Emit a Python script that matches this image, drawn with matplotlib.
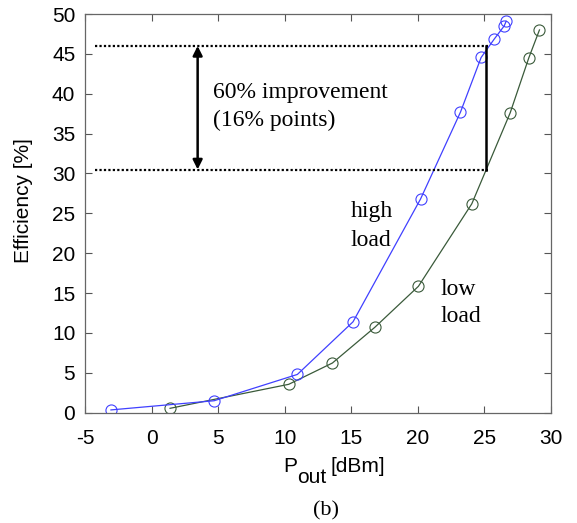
import numpy as np
import matplotlib
matplotlib.use('Agg')
import matplotlib.pyplot as plt

# high load (blue) and low load (dark green) efficiency curves
high_pout = [-3.05, 4.7, 10.95, 15.13, 20.2, 23.2, 24.75, 25.73, 26.48, 26.63]
high_eff = [0.35, 1.5, 4.8, 11.4, 26.8, 37.7, 44.55, 46.85, 48.5, 49.1]
low_pout = [1.39, 10.3, 13.58, 16.76, 20.04, 24.05, 26.93, 28.33, 29.13]
low_eff = [0.55, 3.56, 6.23, 10.7, 15.85, 26.2, 37.6, 44.5, 48.0]

eff_low_ref = 30.5
eff_high_ref = 46.0
x_ticks = [-5, 0, 5, 10, 15, 20, 25, 30]
y_ticks = [0, 5, 10, 15, 20, 25, 30, 35, 40, 45, 50]

serif = ['Liberation Serif', 'DejaVu Serif']
sans = ['Liberation Sans', 'DejaVu Sans']

W, H = 577, 523
fig = plt.figure(figsize=(W / 100, H / 100), dpi=100)
ax = fig.add_axes([0.1473, 0.2109, 0.8077, 0.7623])

ax.plot(low_pout, low_eff, color='#3a5a3a', lw=0.9, marker='o', ms=8,
        mfc='none', mec='#3a5a3a', mew=0.8)
ax.plot(high_pout, high_eff, color='#4040ff', lw=0.9, marker='o', ms=8,
        mfc='none', mec='#4040ff', mew=0.8)

# dotted reference levels and the improvement bar
ax.plot([-4.25, 25.25], [eff_high_ref, eff_high_ref], color='black', lw=1.6, ls=(0, (1, 1)))
ax.plot([-4.25, 25.25], [eff_low_ref, eff_low_ref], color='black', lw=1.6, ls=(0, (1, 1)))
ax.plot([25.1, 25.1], [eff_low_ref, eff_high_ref], color='black', lw=1.8)
ax.annotate('', xy=(3.46, eff_high_ref), xytext=(3.46, eff_low_ref),
            arrowprops=dict(arrowstyle='<|-|>', color='black', lw=1.8,
                            mutation_scale=14, shrinkA=0, shrinkB=0))

fs = 17
ax.text(4.6, 40.2, '60% improvement', family=serif, fontsize=fs, va='center')
ax.text(4.6, 36.7, '(16% points)', family=serif, fontsize=fs, va='center')
ax.text(14.96, 25.2, 'high', family=serif, fontsize=fs, va='center')
ax.text(14.96, 21.6, 'load', family=serif, fontsize=fs, va='center')
ax.text(21.67, 15.5, 'low', family=serif, fontsize=fs, va='center')
ax.text(21.67, 12.1, 'load', family=serif, fontsize=fs, va='center')

ax.set_xlim(-5, 30)
ax.set_ylim(0, 50)
ax.set_xticks(x_ticks)
ax.set_yticks(y_ticks)
ax.set_xticklabels([str(t) for t in x_ticks], family=sans, fontsize=15)
ax.set_yticklabels([str(t) for t in y_ticks], family=sans, fontsize=15)
ax.tick_params(direction='in', top=True, right=True, length=5, color='#555555', width=0.8)
ax.tick_params(axis='x', pad=12)
ax.tick_params(axis='y', pad=7)
for s in ax.spines.values():
    s.set_color('#666666')
    s.set_linewidth(0.9)

ax.set_ylabel('Efficiency [%]', family=sans, fontsize=15)
ax.yaxis.set_label_coords(-0.112, 0.531)

# x label with a full-size lowered subscript, as in the original
fig.text(283 / W, 1 - 472 / H, 'P', family=sans, fontsize=15, va='baseline')
fig.text(297 / W, 1 - 483 / H, 'out', family=sans, fontsize=15, va='baseline')
fig.text(331 / W, 1 - 472 / H, '[dBm]', family=sans, fontsize=15, va='baseline')
fig.text(326 / W, 1 - 511 / H, '(b)', family=serif, fontsize=16, ha='center', va='center')

fig.savefig('out.png', dpi=100)
